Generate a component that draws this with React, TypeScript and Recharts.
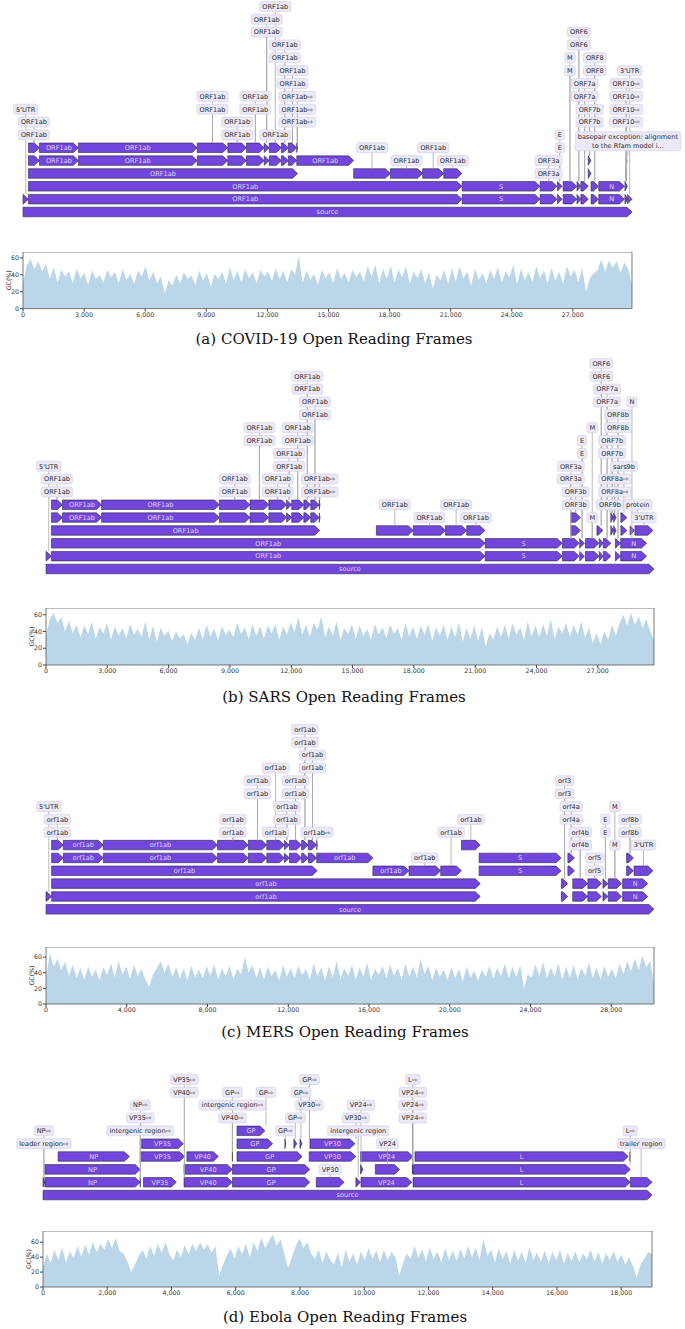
import React from "react";
import {
  ComposedChart,
  AreaChart,
  Area,
  XAxis,
  YAxis,
  Scatter,
  ReferenceArea,
  ReferenceLine,
} from "recharts";

type Span = [number, number, string?];
type Feature = [number, number, number, string?]; // start, end, row, inner label
type Callout = [string, number, number, number]; // text, position, row, row of the feature it points at

const PURPLE = "#7245dc";
const EDGE = "#2b2640";
const BOX = "#ebe9f7";
const BOX_EDGE = "#cfcbe6";
const LEADER = "#a8a8a8";
const GC_FILL = "#1f77b4";
const FONT = '"DejaVu Sans", sans-serif';
const FS = 6.6;
const ROW_PX = 12.85;

const at = (spans: Span[], row: number): Feature[] => spans.map(([s, e, l]) => [s, e, row, l]);

// ---------- (a) COVID-19 ----------
const covidLength = 29903;
const covidNsp: Span[] = [
  [266, 805], [806, 2719, "ORF1ab"], [2720, 8554, "ORF1ab"], [8555, 10054], [10055, 10972],
  [10973, 11842], [11843, 12091], [12092, 12685], [12686, 13024], [13025, 13441],
];
const covidGenes: Span[] = [
  [21563, 25384, "S"], [25393, 26220], [26245, 26472], [26523, 27191], [27202, 27387],
  [27394, 27759], [27894, 28259], [28274, 29533, "N"], [29558, 29674],
];
const covidFeatures: Feature[] = [
  [1, 29903, 0, "source"],
  [1, 265, 1], [266, 21555, 1, "ORF1ab"], ...at(covidGenes, 1), [29675, 29903, 1],
  [266, 21555, 2, "ORF1ab"], ...at(covidGenes, 2),
  [266, 13483, 3, "ORF1ab"], [16237, 18039, 3], [18040, 19620, 3], [19621, 20658, 3], [20659, 21552, 3],
  [27756, 27887, 3], [29609, 29644, 3],
  ...at(covidNsp, 4), [13442, 16236, 4, "ORF1ab"], [27756, 27887, 4], [29629, 29657, 4],
  ...at(covidNsp, 5), [13442, 13480, 5],
];
const covidCallouts: Callout[] = [
  ["5'UTR", 133, 8, 1],
  ["ORF1ab", 535, 6, 5], ["ORF1ab", 535, 7, 5],
  ["ORF1ab", 9304, 8, 5], ["ORF1ab", 9304, 9, 5],
  ["ORF1ab", 10513, 6, 5], ["ORF1ab", 10513, 7, 5],
  ["ORF1ab", 11407, 8, 5], ["ORF1ab", 11407, 9, 5],
  ["ORF1ab", 11967, 14, 5], ["ORF1ab", 11967, 15, 5],
  ["ORF1ab", 12388, 6, 5], ["ORF1ab", 12388, 16, 5],
  ["ORF1ab", 12855, 12, 5], ["ORF1ab", 12855, 13, 5],
  ["ORF1ab", 13233, 10, 5], ["ORF1ab", 13233, 11, 5],
  ["ORF1ab⇨", 13470, 7, 5], ["ORF1ab⇨", 13470, 8, 5], ["ORF1ab⇨", 13470, 9, 5],
  ["ORF1ab", 17138, 5, 3], ["ORF1ab", 18830, 4, 3], ["ORF1ab", 20140, 5, 3], ["ORF1ab", 21105, 4, 3],
  ["ORF3a", 25806, 3, 2], ["ORF3a", 25806, 4, 2],
  ["E", 26358, 5, 2], ["E", 26358, 6, 2],
  ["M", 26857, 11, 2], ["M", 26857, 12, 2],
  ["ORF6", 27294, 13, 2], ["ORF6", 27294, 14, 2],
  ["ORF7a", 27576, 9, 2], ["ORF7a", 27576, 10, 2],
  ["ORF7b", 27821, 7, 4], ["ORF7b", 27821, 8, 4],
  ["ORF8", 28076, 11, 2], ["ORF8", 28076, 12, 2],
  ["ORF10⇨", 29616, 7, 2], ["ORF10⇨", 29616, 8, 2], ["ORF10⇨", 29616, 9, 2], ["ORF10⇨", 29616, 10, 2],
  ["3'UTR", 29789, 11, 1],
  ["basepair exception: alignment\nto the Rfam model i...", 29706, 5.5, 4],
];
const covidGC = [
  30, 52, 58, 47, 56, 44, 53, 35, 49,
  31, 46, 38, 44, 30, 47, 36, 42,
  28, 45, 35, 40, 31, 46, 37, 43,
  30, 47, 34, 41, 29, 45, 38, 50,
  33, 44, 30, 38, 18, 34, 27, 40,
  30, 43, 35, 39, 28, 45, 33, 42,
  26, 41, 35, 44, 29, 49, 34, 45,
  31, 47, 36, 43, 30, 46, 38, 44,
  33, 48, 35, 45, 31, 47, 40, 62,
  30, 45, 34, 41, 28, 46, 36, 43,
  30, 48, 35, 42, 31, 46, 37, 44,
  32, 50, 38, 52, 30, 47, 35, 51,
  31, 46, 37, 50, 29, 44, 36, 47,
  30, 43, 24, 40, 33, 46, 29, 48,
  32, 50, 36, 44, 27, 47, 34, 42,
  30, 46, 35, 49, 31, 44, 37, 52,
  29, 47, 34, 43, 31, 50, 36, 45,
  30, 48, 33, 44, 29, 50, 38, 46,
  31, 49, 20, 36, 42, 45, 58, 44, 57, 48,
  56, 42, 55, 47, 28,
];
const covidTicks = [0, 3000, 6000, 9000, 12000, 15000, 18000, 21000, 24000, 27000];

// ---------- (b) SARS ----------
const sarsLength = 29751;
const sarsNsp: Span[] = [
  [265, 804], [805, 2718, "ORF1ab"], [2719, 8484, "ORF1ab"], [8485, 9984], [9985, 10902],
  [10903, 11772], [11773, 12021], [12022, 12615], [12616, 12954], [12955, 13371],
];
const sarsGenes: Span[] = [
  [21492, 25259, "S"], [25268, 26092], [26117, 26347], [26398, 27063], [27074, 27265],
  [27273, 27641], [27864, 28118], [28120, 29388, "N"],
];
const sarsFeatures: Feature[] = [
  [1, 29751, 0, "source"],
  [1, 264, 1], [265, 21485, 1, "ORF1ab"], ...at(sarsGenes, 1),
  [265, 21485, 2, "ORF1ab"], ...at(sarsGenes, 2),
  [265, 13398, 3, "ORF1ab"], [16167, 17969, 3], [17970, 19550, 3], [19551, 20588, 3], [20589, 21482, 3],
  [25689, 26153, 3], [26960, 27255, 3], [27638, 27772, 3], [27779, 27898, 3], [28130, 28426, 3],
  [28583, 28795, 3], [28820, 29700, 3],
  ...at(sarsNsp, 4), [13372, 13410, 4], [25689, 26153, 4], [27638, 27772, 4], [27779, 27898, 4], [28130, 28426, 4],
  ...at(sarsNsp, 5), [13372, 13410, 5],
];
const sarsCallouts: Callout[] = [
  ["5'UTR", 132, 8, 1],
  ["ORF1ab", 534, 6, 5], ["ORF1ab", 534, 7, 5],
  ["ORF1ab", 9234, 6, 5], ["ORF1ab", 9234, 7, 5],
  ["ORF1ab", 10443, 10, 5], ["ORF1ab", 10443, 11, 5],
  ["ORF1ab", 11337, 6, 5], ["ORF1ab", 11337, 7, 5],
  ["ORF1ab", 11897, 8, 5], ["ORF1ab", 11897, 9, 5],
  ["ORF1ab", 12318, 10, 5], ["ORF1ab", 12318, 11, 5],
  ["ORF1ab", 12785, 14, 5], ["ORF1ab", 12785, 15, 5],
  ["ORF1ab", 13163, 12, 5], ["ORF1ab", 13163, 13, 5],
  ["ORF1ab⇨", 13391, 6, 5], ["ORF1ab⇨", 13391, 7, 5],
  ["ORF1ab", 17068, 5, 3], ["ORF1ab", 18760, 4, 3], ["ORF1ab", 20069, 5, 3], ["ORF1ab", 21035, 4, 3],
  ["ORF3a", 25680, 7, 2], ["ORF3a", 25680, 8, 2],
  ["ORF3b", 25921, 5, 4], ["ORF3b", 25921, 6, 4],
  ["E", 26232, 9, 2], ["E", 26232, 10, 2],
  ["M", 26730, 4, 2], ["M", 26730, 11, 2],
  ["ORF6", 27170, 15, 3], ["ORF6", 27170, 16, 3],
  ["ORF7a", 27457, 13, 2], ["ORF7a", 27457, 14, 2],
  ["ORF7b", 27705, 9, 4], ["ORF7b", 27705, 10, 4],
  ["ORF8a⇨", 27838, 6, 4], ["ORF8a⇨", 27838, 7, 4],
  ["ORF8b", 27991, 11, 2], ["ORF8b", 27991, 12, 2],
  ["sars9b", 28282, 8, 4],
  ["ORF9b", 27600, 5, 4], ["protein", 28960, 5, 4],
  ["N", 28673, 13, 2],
  ["3'UTR", 29260, 4, 3],
];
const sarsGC = [
  36, 55, 62, 50, 57, 40, 53, 38, 48,
  33, 47, 37, 52, 31, 45, 38, 50,
  30, 46, 35, 44, 32, 49, 36, 43,
  34, 52, 30, 47, 28, 44, 35, 41,
  29, 40, 32, 36, 25, 38, 30, 44,
  31, 48, 34, 43, 30, 46, 36, 42,
  33, 50, 37, 45, 31, 48, 35, 46,
  32, 47, 38, 49, 30, 46, 36, 51,
  40, 57, 36, 48, 34, 50, 42, 58,
  33, 46, 35, 52, 30, 44, 37, 48,
  31, 47, 35, 43, 30, 49, 36, 45,
  32, 48, 37, 44, 30, 50, 34, 46,
  31, 47, 36, 49, 29, 45, 35, 48,
  30, 46, 33, 50, 28, 44, 31, 47,
  29, 45, 22, 38, 30, 46, 33, 48,
  31, 50, 36, 45, 30, 52, 34, 47,
  33, 49, 35, 55, 31, 46, 38, 50,
  34, 48, 36, 52, 32, 45, 26, 38,
  25, 40, 30, 48, 35, 50, 60, 47, 62, 48,
  58, 44, 55, 40, 30,
];
const sarsTicks = [0, 3000, 6000, 9000, 12000, 15000, 18000, 21000, 24000, 27000];

// ---------- (c) MERS ----------
const mersLength = 30119;
const mersNsp: Span[] = [
  [279, 857], [858, 2837, "orf1ab"], [2838, 8498, "orf1ab"], [8499, 10019], [10020, 10937],
  [10938, 11813], [11814, 12062], [12063, 12661], [12662, 12991], [12992, 13411],
];
const mersGenes: Span[] = [
  [25532, 25843], [26093, 26833], [26840, 27514], [27590, 27838], [27853, 28512], [28566, 29807, "N"],
];
const mersFeatures: Feature[] = [
  [1, 30119, 0, "source"],
  [1, 278, 1], [279, 21514, 1, "orf1ab"], ...at(mersGenes, 1),
  [279, 21514, 2, "orf1ab"], ...at(mersGenes, 2),
  [279, 13433, 3, "orf1ab"], [16193, 17980, 3, "orf1ab"], [17981, 19552, 3], [19553, 20581, 3],
  [21456, 25517, 3, "S"], [25852, 26181, 3], [28762, 29100, 3], [29130, 30070, 3],
  ...at(mersNsp, 4), [13412, 16192, 4, "orf1ab"], [21456, 25517, 4, "S"], [25852, 26181, 4], [28762, 29100, 4],
  ...at(mersNsp, 5), [13412, 13433, 5], [20582, 21514, 5],
];
const mersCallouts: Callout[] = [
  ["5'UTR", 139, 8, 1],
  ["orf1ab", 568, 6, 5], ["orf1ab", 568, 7, 5],
  ["orf1ab", 9259, 6, 5], ["orf1ab", 9259, 7, 5],
  ["orf1ab", 10478, 9, 5], ["orf1ab", 10478, 10, 5],
  ["orf1ab", 11375, 6, 5], ["orf1ab", 11375, 11, 5],
  ["orf1ab", 11938, 7, 5], ["orf1ab", 11938, 8, 5],
  ["orf1ab", 12362, 9, 5], ["orf1ab", 12362, 10, 5],
  ["orf1ab", 12826, 13, 5], ["orf1ab", 12826, 14, 5],
  ["orf1ab", 13201, 11, 5], ["orf1ab", 13201, 12, 5],
  ["orf1ab⇨", 13422, 6, 5],
  ["orf1ab", 18766, 4, 3], ["orf1ab", 20067, 6, 3], ["orf1ab", 21048, 7, 5],
  ["orf3", 25688, 9, 2], ["orf3", 25688, 10, 2],
  ["orf4a", 26016, 7, 4], ["orf4a", 26016, 8, 4],
  ["orf4b", 26463, 5, 2], ["orf4b", 26463, 6, 2],
  ["orf5", 27177, 3, 2], ["orf5", 27177, 4, 2],
  ["E", 27714, 6, 2], ["E", 27714, 7, 2],
  ["M", 28182, 5, 2], ["M", 28182, 8, 2],
  ["orf8b", 28931, 6, 4], ["orf8b", 28931, 7, 4],
  ["3'UTR", 29600, 5, 3],
];
const mersGC = [
  32, 65, 48, 58, 44, 54, 36, 50, 33,
  46, 31, 48, 35, 44, 30, 47, 37,
  52, 34, 55, 38, 48, 32, 50, 36,
  45, 31, 22, 38, 46, 55, 40, 52,
  35, 47, 32, 45, 30, 49, 34, 44,
  33, 48, 36, 51, 31, 46, 35, 49,
  32, 45, 38, 60, 40, 50, 34, 47,
  31, 48, 36, 44, 30, 50, 35, 46,
  33, 49, 37, 45, 31, 52, 36, 47,
  30, 48, 34, 55, 32, 46, 36, 50,
  31, 47, 35, 53, 30, 45, 37, 49,
  33, 50, 36, 46, 31, 52, 35, 48,
  34, 58, 38, 49, 30, 46, 35, 44,
  31, 47, 33, 45, 29, 48, 34, 43,
  30, 44, 35, 49, 32, 46, 36, 52,
  33, 48, 35, 50, 20, 38, 34, 51,
  36, 54, 33, 47, 35, 52, 31, 48,
  34, 50, 32, 46, 36, 53, 33, 47,
  31, 49, 35, 45, 33, 52, 38, 55,
  42, 58, 44, 62, 47, 55, 26,
];
const mersTicks = [0, 4000, 8000, 12000, 16000, 20000, 24000, 28000];

// ---------- (d) Ebola ----------
const ebolaLength = 18959;
const ebolaFeatures: Feature[] = [
  [1, 18959, 0, "source"],
  [1, 55, 1], [56, 3026, 1, "NP"], [3027, 3031, 1], [3129, 4151, 1, "VP35"], [4390, 5894, 1, "VP40"],
  [5900, 8305, 1, "GP"], [8509, 9375, 1], [9741, 9884, 1], [9900, 11480, 1, "VP24"],
  [11520, 18280, 1, "L"], [18283, 18959, 1],
  [56, 3026, 2, "NP"], [4390, 5894, 2, "VP40"], [5900, 8305, 2, "GP"], [9885, 9960, 2],
  [10345, 11100, 2], [11501, 11518, 2], [11520, 18282, 2, "L"],
  [470, 2689, 3, "NP"], [3032, 4407, 3, "VP35"], [4479, 5459, 3, "VP40"], [5895, 5899, 3],
  [6039, 8068, 3, "GP"], [8288, 9740, 3, "VP30"], [9885, 11518, 3, "VP24"], [11581, 18219, 3, "L"],
  [18270, 18282, 3],
  [3070, 4370, 4, "VP35"], [6039, 7150, 4, "GP"], [7530, 7560, 4], [7810, 7900, 4], [8000, 8060, 4],
  [8310, 9710, 4, "VP30"],
  [6039, 6910, 5, "GP"],
];
const ebolaCallouts: Callout[] = [
  ["leader region⇨", 28, 4, 1], ["NP⇨", 28, 5, 1],
  ["intergenic region⇨", 3029, 5, 1], ["VP35⇨", 3029, 6, 1], ["NP⇨", 3029, 7, 1],
  ["VP40⇨", 4400, 8, 1], ["VP35⇨", 4400, 9, 1],
  ["VP40⇨", 5897, 6, 3], ["intergenic region⇨", 5897, 7, 3], ["GP⇨", 5897, 8, 3],
  ["GP⇨", 6942, 8, 5], ["GP⇨", 7545, 5, 4], ["GP⇨", 7855, 6, 4], ["GP⇨", 8030, 8, 4],
  ["GP⇨", 8296, 9, 4], ["VP30⇨", 8296, 7, 4],
  ["VP30", 8942, 2, 1],
  ["VP30⇨", 9740, 6, 4], ["intergenic region", 9812, 5, 1], ["VP24⇨", 9900, 7, 2],
  ["VP24", 10722, 4, 2],
  ["VP24⇨", 11510, 6, 2], ["VP24⇨", 11510, 7, 2], ["VP24⇨", 11510, 8, 2], ["L⇨", 11510, 9, 2],
  ["L⇨", 18282, 5, 2], ["trailer region", 18621, 4, 1],
];
const ebolaGC = [
  26, 45, 32, 50, 36, 53, 33, 48, 39,
  55, 41, 57, 44, 60, 47, 58, 50,
  64, 52, 66, 48, 45,
  35, 20, 30, 42, 50,
  38, 55, 42, 58, 46, 60, 44,
  36, 50, 40, 56, 44, 58,
  48, 60, 50, 57, 46, 55,
  15, 30, 42, 52,
  38, 55, 44, 58, 40, 60,
  48, 66, 52, 62, 70, 55, 64, 45,
  25, 40, 55, 65,
  52, 60, 45, 38, 50, 32, 48, 36,
  30, 46, 26, 50, 34, 45, 30, 48, 36,
  52, 38, 49, 33, 50, 36, 47, 40,
  15, 32, 45, 38,
  55, 40, 50, 34, 53, 37, 48, 33, 52, 36, 49, 35,
  51, 38, 55, 40, 52, 36, 65, 42, 50,
  33, 52, 37, 48, 31, 50, 35, 47, 32, 53, 36, 46, 34,
  49, 32, 47, 36, 50, 31, 46, 35, 48, 33, 45, 37,
  50, 34, 47, 31, 45, 36, 48, 33, 44, 30, 40, 28,
  12, 30, 38, 47, 44,
];
const ebolaTicks = [0, 2000, 4000, 6000, 8000, 10000, 12000, 14000, 16000, 18000];

let ctx: CanvasRenderingContext2D | null = null;
function textWidth(s: string) {
  if (!ctx) ctx = document.createElement("canvas").getContext("2d");
  if (!ctx) return s.length * FS * 0.62;
  ctx.font = `${FS}px "DejaVu Sans"`;
  return ctx.measureText(s).width;
}

function Arrow(props: any) {
  const { x, width, label } = props;
  const y = Math.min(props.y, props.y + props.height);
  const h = Math.abs(props.height);
  const head = Math.min(5, width);
  const pts = `${x},${y} ${x + width - head},${y} ${x + width},${y + h / 2} ${x + width - head},${y + h} ${x},${y + h}`;
  return (
    <g>
      <polygon points={pts} fill={PURPLE} stroke={EDGE} strokeWidth={0.6} strokeLinejoin="round" />
      {label && (
        <text x={x + width / 2} y={y + h / 2} dy="0.35em" textAnchor="middle" fontSize={FS}
          fontFamily={FONT} fill="#fff" fillOpacity={0.78}>
          {label}
        </text>
      )}
    </g>
  );
}

function CalloutBox(props: any) {
  const { cx, cy, payload } = props;
  const lines: string[] = payload.text.split("\n");
  const w = Math.max(...lines.map(textWidth)) + 5;
  const h = lines.length * 9 + 1;
  return (
    <g>
      <rect x={cx - w / 2} y={cy - h / 2} width={w} height={h} rx={2} fill={BOX} stroke={BOX_EDGE} strokeWidth={0.6} />
      {lines.map((ln, i) => (
        <text key={i} x={cx} y={cy - h / 2 + 5 + 9 * i} dy="0.35em" textAnchor="middle" fontSize={FS}
          fontFamily={FONT} fill="#2a2a2a">
          {ln}
        </text>
      ))}
    </g>
  );
}

function FeatureMap({ row0, left, right, length, maxRow, features, callouts }: {
  row0: number; left: number; right: number; length: number; maxRow: number;
  features: Feature[]; callouts: Callout[];
}) {
  const height = (maxRow + 1) * ROW_PX;
  const top = row0 - (maxRow + 0.5) * ROW_PX;
  const labels = callouts.map(([text, x, row, to]) => ({ text, x, y: row, to }));
  return (
    <div style={{ position: "absolute", top, left: 0 }}>
      <ComposedChart width={685} height={height} margin={{ top: 0, right, bottom: 0, left }}>
        <XAxis type="number" dataKey="x" domain={[0, length]} hide />
        <YAxis type="number" dataKey="y" domain={[-0.5, maxRow + 0.5]} hide />
        {labels.map((l, i) => (
          <ReferenceLine key={"l" + i} segment={[{ x: l.x, y: l.to + 0.37 }, { x: l.x, y: l.y }]}
            stroke={LEADER} strokeWidth={0.8} ifOverflow="visible" />
        ))}
        {features.map(([s, e, row, label], i) => (
          <ReferenceArea key={"f" + i} x1={s} x2={e} y1={row - 0.37} y2={row + 0.37} ifOverflow="visible"
            shape={(p: any) => <Arrow {...p} label={label} />} />
        ))}
        <Scatter data={labels} isAnimationActive={false} shape={(p: any) => <CalloutBox {...p} />} />
      </ComposedChart>
    </div>
  );
}

function GCPlot({ top, plotH, left, right, length, yMax, values, ticks }: {
  top: number; plotH: number; left: number; right: number; length: number; yMax: number;
  values: number[]; ticks: number[];
}) {
  const data = values.map((gc, i) => ({ pos: Math.round((i * length) / (values.length - 1)), gc }));
  const tick = { fontSize: 6.3, fill: "#333", fontFamily: FONT };
  return (
    <div style={{ position: "absolute", top, left: 0 }}>
      <AreaChart width={685} height={plotH + 16} data={data} margin={{ top: 0, right, bottom: 0, left: 0 }}>
        <XAxis type="number" dataKey="pos" domain={[0, length]} allowDataOverflow ticks={ticks} interval={0}
          tickFormatter={(v) => Number(v).toLocaleString("en-US")} tick={tick} tickSize={3} tickMargin={1}
          axisLine={false} tickLine={{ stroke: "#444" }} height={16} />
        <YAxis type="number" domain={[0, yMax]} allowDataOverflow ticks={[0, 20, 40, 60]} width={left} tick={tick}
          tickSize={3} tickMargin={1} axisLine={false} tickLine={{ stroke: "#444" }}
          label={({ viewBox }: any) => (
            <text transform={`translate(${viewBox.x + viewBox.width - 14},${viewBox.y + viewBox.height / 2}) rotate(-90)`}
              textAnchor="middle" dy="0.35em" fontSize={6.3} fontFamily={FONT} fill="#333">
              GC(%)
            </text>
          )} />
        <Area type="linear" dataKey="gc" stroke="none" fill={GC_FILL} fillOpacity={0.3}
          isAnimationActive={false} dot={false} activeDot={false} />
        <ReferenceArea x1={0} x2={length} y1={0} y2={yMax} fill="none" fillOpacity={0} stroke="#555"
          strokeWidth={0.8} ifOverflow="visible" />
      </AreaChart>
    </div>
  );
}

function Caption({ text, cx, cy }: { text: string; cx: number; cy: number }) {
  return (
    <div style={{
      position: "absolute", left: cx - 200, top: cy - 10, width: 400, textAlign: "center",
      fontFamily: '"DejaVu Serif", serif', fontSize: 15, lineHeight: "20px", color: "#111",
    }}>
      {text}
    </div>
  );
}

export default function App() {
  return (
    <div style={{ position: "absolute", left: 0, top: 0, width: 685, height: 1329, background: "#fff", fontFamily: FONT }}>
      <FeatureMap row0={212} left={23} right={53} length={covidLength} maxRow={16}
        features={covidFeatures} callouts={covidCallouts} />
      <GCPlot top={251.7} plotH={56.6} left={23} right={53} length={covidLength} yMax={67}
        values={covidGC} ticks={covidTicks} />
      <Caption text="(a) COVID-19 Open Reading Frames" cx={334} cy={339} />

      <FeatureMap row0={569} left={46} right={31} length={sarsLength} maxRow={16}
        features={sarsFeatures} callouts={sarsCallouts} />
      <GCPlot top={608.3} plotH={57} left={46} right={31} length={sarsLength} yMax={68}
        values={sarsGC} ticks={sarsTicks} />
      <Caption text="(b) SARS Open Reading Frames" cx={344} cy={697} />

      <FeatureMap row0={909} left={46} right={31} length={mersLength} maxRow={14}
        features={mersFeatures} callouts={mersCallouts} />
      <GCPlot top={947} plotH={57} left={46} right={31} length={mersLength} yMax={73}
        values={mersGC} ticks={mersTicks} />
      <Caption text="(c) MERS Open Reading Frames" cx={345} cy={1032} />

      <FeatureMap row0={1195} left={43} right={33} length={ebolaLength} maxRow={9}
        features={ebolaFeatures} callouts={ebolaCallouts} />
      <GCPlot top={1231} plotH={56} left={43} right={33} length={ebolaLength} yMax={75}
        values={ebolaGC} ticks={ebolaTicks} />
      <Caption text="(d) Ebola Open Reading Frames" cx={345} cy={1317} />
    </div>
  );
}
